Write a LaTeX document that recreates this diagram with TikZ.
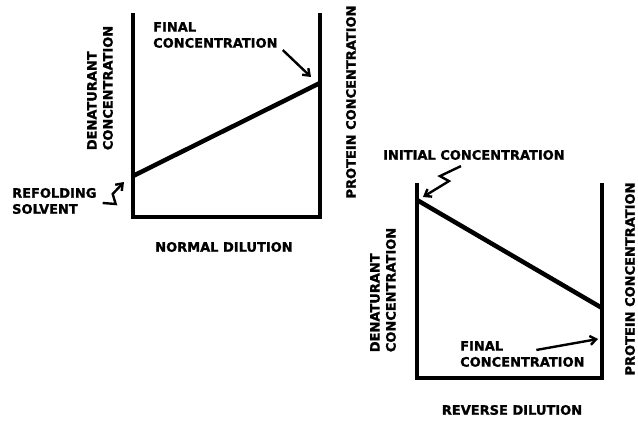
\documentclass[tikz,border=0pt]{standalone}
\usepackage{fontspec}
\setmainfont{DejaVu Sans}[BoldFeatures={FakeBold=1.2}]
\usetikzlibrary{arrows.meta, positioning}

\begin{document}
\begin{tikzpicture}[
    x=1pt, y=-1pt,
    lbl/.style={font=\fontsize{13}{16}\selectfont\bfseries, align=left,
                inner sep=0pt},
    vlbl/.style={lbl, rotate=90},
    axis/.style={line width=4pt},
    conc/.style={line width=4.5pt},
    pointer/.style={-{Straight Barb[length=6pt, width=9pt]}, line width=2.4pt},
]
    \useasboundingbox (0,0) rectangle (638,427);

    % normal dilution
    \coordinate (nTL) at (133,13);
    \coordinate (nBL) at (133,217);
    \coordinate (nBR) at (320,217);
    \coordinate (nTR) at (320,13);
    \coordinate (nStart) at (133,176);
    \coordinate (nEnd) at (320,83);
    \draw[axis] (nTL) -- (nBL) -- (nBR) -- (nTR);
    \draw[conc] (nStart) -- (nEnd);

    \node[vlbl] (nDen) at (100,88) {DENATURANT\\CONCENTRATION};
    \node[vlbl] (nProt) at (351,102) {PROTEIN CONCENTRATION};
    \node[lbl, anchor=west] (nFinal) at (153,35) {FINAL\\CONCENTRATION};
    \node[lbl, anchor=west] (nRefold) at (12,201) {REFOLDING\\SOLVENT};
    \node[lbl] (nTitle) at (224,247) {NORMAL DILUTION};

    \coordinate (nFinalPt) at (311,77);
    \coordinate (nSolvPt) at (124,182);
    \draw[pointer] ([shift={(5,2)}]nFinal.south east) -- (nFinalPt);
    \draw[pointer] ([shift={(6,2)}]nRefold.east) -- ++(13,1) -- ++(-3,-10)
        -- (nSolvPt);

    % reverse dilution
    \coordinate (rTL) at (417,183);
    \coordinate (rBL) at (417,378);
    \coordinate (rBR) at (602,378);
    \coordinate (rTR) at (602,183);
    \coordinate (rStart) at (417,200);
    \coordinate (rEnd) at (602,308);
    \draw[axis] (rTL) -- (rBL) -- (rBR) -- (rTR);
    \draw[conc] (rStart) -- (rEnd);

    \node[vlbl] (rDen) at (383,290) {DENATURANT\\CONCENTRATION};
    \node[vlbl] (rProt) at (630,279) {PROTEIN CONCENTRATION};
    \node[lbl, anchor=west] (rInit) at (383,155) {INITIAL CONCENTRATION};
    \node[lbl, anchor=west] (rFinal) at (460,354) {FINAL\\CONCENTRATION};
    \node[lbl] (rTitle) at (512,410) {REVERSE DILUTION};

    \coordinate (rInitPt) at (423,197);
    \coordinate (rFinalPt) at (598,339);
    \draw[pointer] ([shift={(-13,6)}]rInit.south) -- ++(-21,10) -- ++(9,5)
        -- (rInitPt);
    \draw[pointer] ([shift={(14,9)}]rFinal.north) -- (rFinalPt);
\end{tikzpicture}
\end{document}
